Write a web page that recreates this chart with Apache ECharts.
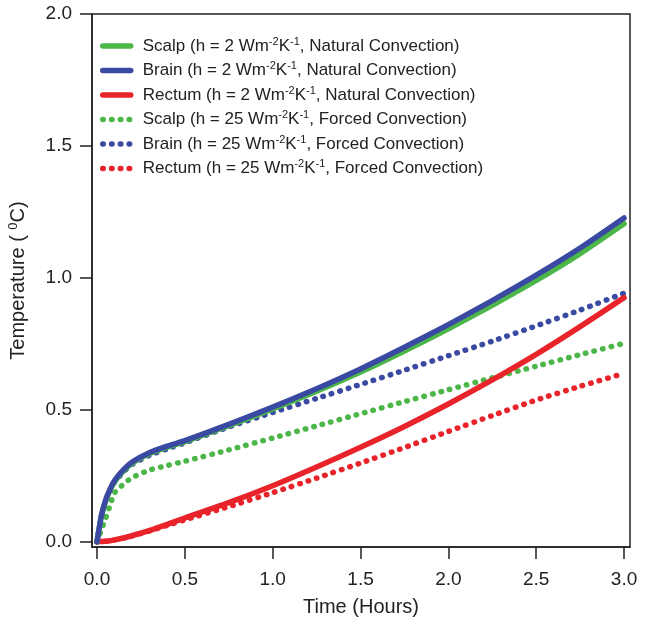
<!DOCTYPE html>
<html><head><meta charset="utf-8">
<script src="https://cdn.jsdelivr.net/npm/echarts@6/dist/echarts.min.js"></script>
<style>html,body{margin:0;padding:0;background:#fff}#c{width:645px;height:625px}</style>
</head><body><div id="c"></div>
<script>
// Time (hours)
const times = [0, 0.025, 0.05, 0.075, 0.1, 0.15, 0.2, 0.3, 0.4, 0.5, 0.75, 1.0, 1.25, 1.5, 1.75, 2.0, 2.25, 2.5, 2.75, 3.0];
// Temperature rise (°C)
const scalpNatural  = [0, 0.097, 0.156, 0.197, 0.228, 0.268, 0.298, 0.334, 0.358, 0.379, 0.44, 0.503, 0.57, 0.643, 0.723, 0.807, 0.896, 0.99, 1.092, 1.205];
const brainNatural  = [0, 0.10, 0.16, 0.20, 0.232, 0.272, 0.302, 0.338, 0.362, 0.383, 0.445, 0.51, 0.58, 0.655, 0.737, 0.823, 0.914, 1.01, 1.113, 1.227];
const rectumNatural = [0, 0.001, 0.002, 0.004, 0.007, 0.014, 0.023, 0.043, 0.066, 0.09, 0.148, 0.212, 0.283, 0.358, 0.437, 0.522, 0.613, 0.71, 0.815, 0.925];
const scalpForced   = [0, 0.045, 0.09, 0.14, 0.185, 0.218, 0.243, 0.272, 0.289, 0.305, 0.348, 0.393, 0.439, 0.485, 0.531, 0.576, 0.621, 0.665, 0.709, 0.752];
const brainForced   = [0, 0.095, 0.153, 0.193, 0.225, 0.264, 0.293, 0.328, 0.352, 0.375, 0.435, 0.49, 0.543, 0.596, 0.65, 0.705, 0.76, 0.818, 0.878, 0.942];
const rectumForced  = [0, 0.001, 0.002, 0.004, 0.007, 0.013, 0.022, 0.041, 0.062, 0.083, 0.133, 0.186, 0.241, 0.298, 0.357, 0.418, 0.478, 0.537, 0.589, 0.638];

const seriesNames = [
  'Scalp (h = 2 Wm^-2K^-1, Natural Convection)',
  'Brain (h = 2 Wm^-2K^-1, Natural Convection)',
  'Rectum (h = 2 Wm^-2K^-1, Natural Convection)',
  'Scalp (h = 25 Wm^-2K^-1, Forced Convection)',
  'Brain (h = 25 Wm^-2K^-1, Forced Convection)',
  'Rectum (h = 25 Wm^-2K^-1, Forced Convection)'
];
const xTicks = [0, 0.5, 1.0, 1.5, 2.0, 2.5, 3.0];
const yTicks = [0, 0.5, 1.0, 1.5, 2.0];

const GREEN = '#4cb748', BLUE = '#3a4aa3', RED = '#e8232a';
const FONT = "'Liberation Sans', Arial, sans-serif";

function pairs(ys) { return times.map((t, i) => [t, ys[i]]); }
function solid(name, ys, color, z) {
  return { name, type: 'line', data: pairs(ys), symbol: 'none', showSymbol: false, smooth: 0.2,
    lineStyle: { color, width: 5.5, cap: 'round', join: 'round' }, itemStyle: { color }, z };
}
function dotted(name, ys, color, z) {
  return { name, type: 'line', data: pairs(ys), symbol: 'none', showSymbol: false, smooth: 0.2,
    lineStyle: { color, width: 5.5, type: [0.5, 8.3], cap: 'round' }, itemStyle: { color }, z };
}

const chart = echarts.init(document.getElementById('c'), null, { renderer: 'canvas' });
chart.setOption({
  animation: false,
  backgroundColor: '#fff',
  textStyle: { fontFamily: FONT },
  grid: { left: 92, right: 15, top: 14, bottom: 78, show: true, borderColor: '#222', borderWidth: 1.5, backgroundColor: 'transparent', containLabel: false, outerBoundsMode: 'none' },
  legend: {
    orient: 'vertical', left: 95, top: 31, itemWidth: 28, itemHeight: 14, itemGap: 6,
    data: seriesNames,
    itemStyle: { opacity: 0 },
    lineStyle: { width: 5.5, cap: 'round' },
    formatter: name => name.split(/(\^-\d)/).filter(s => s).map(s => s.startsWith('^') ? '{sup|' + s.slice(1) + '}' : '{n|' + s + '}').join(''),
    textStyle: { fontFamily: FONT, padding: [0, 0, 0, 7], rich: {
      n: { fontSize: 17, color: '#222', fontFamily: FONT, lineHeight: 20 },
      sup: { fontSize: 11, color: '#222', fontFamily: FONT, lineHeight: 11, verticalAlign: 'top' }
    } }
  },
  xAxis: {
    type: 'value', min: -0.0285, max: 3.034,
    name: 'Time (Hours)', nameLocation: 'middle', nameGap: 50,
    nameTextStyle: { fontSize: 20, color: '#222', fontFamily: FONT },
    axisLine: { show: true, onZero: false, lineStyle: { color: '#222', width: 1.5 } },
    axisTick: { show: true, length: 12, inside: false, customValues: xTicks, lineStyle: { color: '#222', width: 1.5 } },
    axisLabel: { customValues: xTicks, formatter: v => v.toFixed(1), margin: 23, fontSize: 19, color: '#222', fontFamily: FONT },
    splitLine: { show: false }
  },
  yAxis: {
    type: 'value', min: -0.02, max: 2.0,
    name: '{n|Temperature ( }{sup|0}{n|C)}', nameLocation: 'middle', nameGap: 62, nameRotate: 90,
    nameTextStyle: { fontSize: 20, color: '#222', fontFamily: FONT, rich: {
      n: { fontSize: 20, color: '#222', fontFamily: FONT, lineHeight: 23 },
      sup: { fontSize: 13, color: '#222', fontFamily: FONT, lineHeight: 13, verticalAlign: 'top' }
    } },
    axisLine: { show: true, onZero: false, lineStyle: { color: '#222', width: 1.5 } },
    axisTick: { show: true, length: 12, inside: false, customValues: yTicks, lineStyle: { color: '#222', width: 1.5 } },
    axisLabel: { customValues: yTicks, formatter: v => v.toFixed(1), margin: 20, fontSize: 19, color: '#222', fontFamily: FONT },
    splitLine: { show: false }
  },
  series: [
    dotted(seriesNames[5], rectumForced, RED, 2),
    dotted(seriesNames[3], scalpForced, GREEN, 2),
    dotted(seriesNames[4], brainForced, BLUE, 2),
    solid(seriesNames[2], rectumNatural, RED, 3),
    solid(seriesNames[0], scalpNatural, GREEN, 3),
    solid(seriesNames[1], brainNatural, BLUE, 4)
  ]
});
</script></body></html>
